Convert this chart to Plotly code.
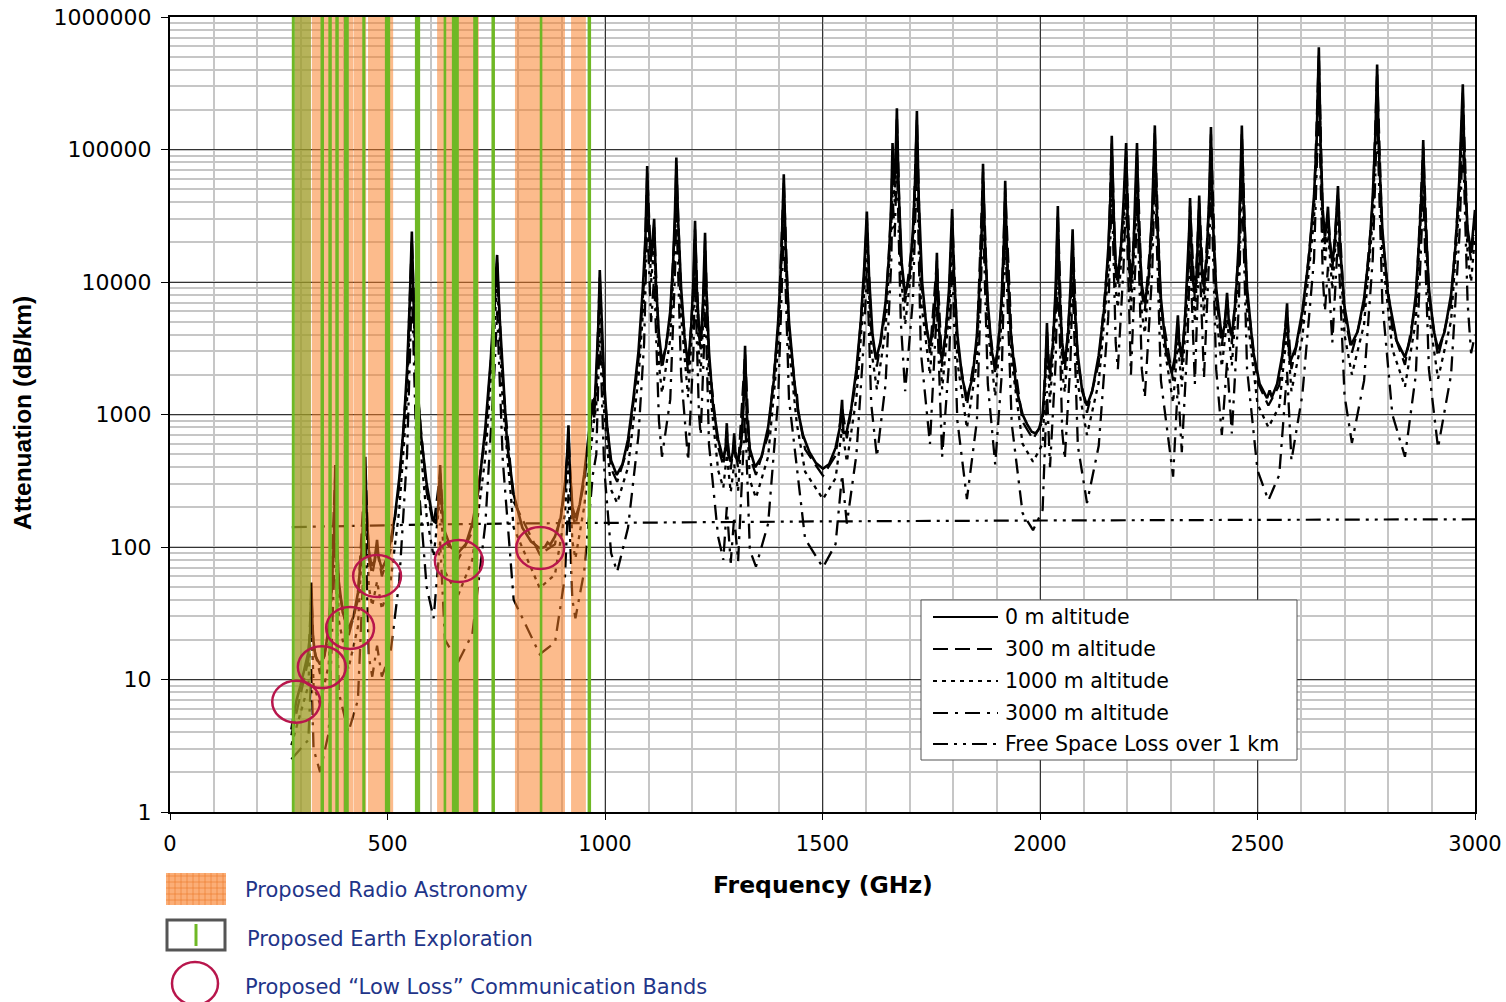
import plotly.graph_objects as go

# ---------------- data ----------------
# 0 m altitude specific attenuation (GHz, dB/km)
FREQ_0M = [
    279, 290, 300, 310, 318, 322, 325, 328, 334, 345,
    355, 365, 372, 377, 380, 383, 388, 397, 410, 422,
    432, 440, 446, 449, 452, 457, 463, 470, 474, 476,
    479, 487, 497, 507, 517, 527, 537, 545, 551, 556,
    560, 567, 577, 590, 603, 612, 617, 621, 625, 632,
    645, 662, 680, 695, 710, 725, 737, 746, 752, 757,
    765, 775, 790, 810, 830, 850, 862, 868, 874, 885,
    898, 908, 913, 916, 919, 925, 932, 942, 952, 962,
    968, 972, 975, 980, 985, 988, 992, 998, 1005, 1014,
    1027, 1040, 1053, 1065, 1077, 1087, 1093, 1097, 1101, 1106,
    1110, 1113, 1117, 1124, 1131, 1140, 1150, 1157, 1161, 1164,
    1168, 1175, 1183, 1191, 1198, 1203, 1207, 1211, 1216, 1220,
    1225, 1228, 1230, 1233, 1239, 1248, 1260, 1271, 1277, 1280,
    1283, 1289, 1294, 1297, 1300, 1306, 1313, 1318, 1322, 1326,
    1333, 1345, 1360, 1375, 1388, 1398, 1405, 1411, 1416, 1423,
    1432, 1438, 1441, 1444, 1455, 1470, 1485, 1501, 1515, 1530,
    1540, 1545, 1548, 1556, 1566, 1578, 1588, 1596, 1602, 1607,
    1615, 1623, 1633, 1645, 1653, 1658, 1661, 1664, 1668, 1671,
    1675, 1682, 1690, 1700, 1708, 1713, 1717, 1721, 1729, 1739,
    1747, 1755, 1760, 1763, 1766, 1771, 1775, 1783, 1791, 1795,
    1798, 1802, 1810, 1821, 1832, 1845, 1855, 1862, 1866, 1869,
    1873, 1880, 1889, 1897, 1905, 1912, 1917, 1920, 1924, 1932,
    1945, 1960, 1970, 1981, 1990, 1998, 2006, 2012, 2016, 2019,
    2023, 2030, 2036, 2041, 2045, 2051, 2057, 2064, 2070, 2075,
    2079, 2087, 2097, 2108, 2120, 2135, 2148, 2157, 2162, 2165,
    2169, 2174, 2179, 2186, 2192, 2198, 2202, 2206, 2209, 2214,
    2219, 2223, 2227, 2234, 2241, 2250, 2258, 2264, 2269, 2278,
    2290, 2303, 2310, 2315, 2317, 2320, 2326, 2333, 2339, 2343,
    2345, 2348, 2352, 2356, 2360, 2364, 2366, 2369, 2373, 2377,
    2383, 2389, 2393, 2397, 2405, 2418, 2425, 2430, 2434, 2441,
    2450, 2457, 2461, 2464, 2468, 2476, 2490, 2505, 2522, 2528,
    2533, 2545, 2557, 2564, 2568, 2571, 2575, 2588, 2603, 2618,
    2630, 2636, 2641, 2645, 2650, 2655, 2659, 2662, 2666, 2672,
    2678, 2682, 2685, 2690, 2700, 2715, 2730, 2745, 2757, 2765,
    2771, 2775, 2779, 2787, 2800, 2820, 2839, 2852, 2864, 2873,
    2878, 2881, 2885, 2894, 2905, 2915, 2930, 2945, 2956, 2964,
    2969, 2972, 2976, 2983, 2991, 2996, 3000,
]
ATT_0M = [
    4.2, 6.8, 9, 12.5, 16, 22, 54, 22, 15, 13,
    15, 25, 50, 120, 415, 120, 55, 32, 24, 30,
    45, 90, 200, 480, 180, 95, 72, 78, 95, 113,
    85, 68, 80, 110, 170, 330, 800, 2200, 7000, 24000,
    7000, 2000, 700, 300, 170, 150, 210, 415, 200, 130,
    100, 90, 105, 150, 280, 800, 2500, 7000, 16000, 6000,
    2000, 600, 250, 140, 110, 98, 100, 108, 104, 120,
    165, 300, 500, 830, 400, 200, 165, 210, 350, 700,
    1000, 1300, 950, 2000, 5000, 12300, 5000, 1800, 800, 450,
    350, 420, 650, 1300, 3000, 9000, 22000, 75000, 25000, 16000,
    22000, 30000, 10000, 4000, 2500, 3200, 6000, 15000, 35000, 87000,
    30000, 9000, 3800, 2350, 4500, 10000, 29000, 9000, 4500, 3600,
    6500, 12000, 23500, 9000, 3000, 1200, 650, 470, 540, 860,
    500, 440, 520, 720, 480, 450, 600, 1100, 3300, 1000,
    550, 400, 480, 800, 1800, 5000, 14000, 65000, 15000, 5000,
    2200, 1400, 1400, 1050, 700, 520, 430, 390, 420, 560,
    800, 1290, 720, 750, 1100, 2200, 5000, 13000, 34000, 11000,
    4000, 2600, 3500, 7000, 16000, 40000, 112000, 55000, 80000, 205000,
    50000, 14000, 8000, 11000, 25000, 60000, 195000, 45000, 10000, 4500,
    3300, 4500, 8000, 16600, 6000, 3000, 2600, 4000, 9000, 17000,
    35500, 12000, 4000, 1900, 1330, 1900, 4000, 11000, 25000, 78000,
    22000, 7000, 3000, 2300, 3500, 8000, 20000, 58000, 16000, 4500,
    1600, 1000, 850, 740, 720, 780, 1000, 2000, 4900, 2500,
    2050, 3500, 9000, 37500, 8000, 3500, 2450, 3800, 9000, 25000,
    7000, 2800, 1500, 1170, 1500, 2800, 6500, 18000, 45000, 127000,
    35000, 14000, 10700, 18000, 40000, 112000, 25000, 12000, 9800, 15000,
    40000, 112000, 25000, 9500, 6900, 11000, 35000, 152000, 30000, 7500,
    3000, 2050, 2700, 4200, 5600, 3500, 2700, 5000, 12000, 25000,
    43000, 18000, 10000, 8300, 11000, 25000, 45000, 20000, 11000, 9200,
    15000, 45000, 148000, 30000, 9000, 3800, 4800, 8300, 5000, 3900,
    7500, 20000, 55000, 152000, 40000, 9000, 3000, 1700, 1330, 1520,
    1350, 1700, 2800, 4500, 6900, 3500, 2500, 3200, 6000, 15000,
    45000, 120000, 590000, 110000, 35000, 22000, 28000, 37000, 20000, 14000,
    20000, 32000, 53000, 18000, 6500, 3340, 4200, 7500, 17000, 45000,
    130000, 437000, 100000, 25000, 8000, 3600, 2700, 3800, 8000, 25000,
    55000, 118000, 35000, 9000, 4300, 3100, 4200, 8000, 20000, 60000,
    140000, 310000, 70000, 25000, 16600, 24000, 35000,
]

# 300 m / 1000 m / 3000 m altitude curves (shared frequency points)
FREQ_ALT = [
    279, 300, 318, 325, 330, 345, 365, 380, 388, 410,
    432, 449, 457, 465, 476, 487, 507, 527, 545, 556,
    567, 590, 606, 621, 632, 662, 695, 725, 746, 752,
    765, 790, 850, 885, 908, 916, 925, 932, 952, 972,
    980, 988, 998, 1014, 1028, 1053, 1077, 1090, 1097, 1106,
    1113, 1124, 1131, 1150, 1161, 1164, 1175, 1191, 1203, 1207,
    1216, 1220, 1228, 1230, 1239, 1260, 1272, 1280, 1289, 1297,
    1306, 1322, 1333, 1347, 1375, 1398, 1411, 1423, 1441, 1460,
    1501, 1530, 1545, 1556, 1578, 1596, 1602, 1612, 1625, 1645,
    1658, 1661, 1666, 1671, 1680, 1690, 1708, 1717, 1726, 1747,
    1763, 1775, 1791, 1798, 1810, 1832, 1855, 1869, 1880, 1897,
    1912, 1920, 1935, 1960, 1984, 2006, 2016, 2023, 2036, 2041,
    2051, 2057, 2070, 2075, 2087, 2108, 2135, 2157, 2165, 2174,
    2179, 2192, 2198, 2209, 2219, 2223, 2234, 2241, 2258, 2264,
    2278, 2306, 2317, 2326, 2339, 2345, 2356, 2366, 2377, 2389,
    2393, 2405, 2418, 2430, 2441, 2457, 2464, 2476, 2500, 2525,
    2550, 2568, 2578, 2603, 2630, 2641, 2650, 2655, 2662, 2672,
    2685, 2700, 2717, 2745, 2765, 2775, 2787, 2810, 2839, 2864,
    2881, 2894, 2915, 2945, 2964, 2972, 2983, 2991, 3000,
]
ATT_300M = [
    3.8, 7.8, 14, 45, 18, 11, 22, 360, 48, 21,
    40, 420, 82, 62, 98, 60, 95, 290, 1900, 21000,
    1750, 260, 145, 360, 112, 80, 130, 700, 6000, 14000,
    1750, 220, 88, 105, 260, 720, 175, 145, 305, 1100,
    1750, 10800, 1550, 390, 310, 570, 2600, 10500, 66000, 14000,
    26000, 3500, 2200, 5200, 30000, 76000, 7800, 2050, 8700, 25000,
    3900, 3100, 10500, 20500, 2600, 570, 410, 750, 385, 630,
    395, 2900, 480, 350, 700, 4400, 57000, 4400, 1220, 545,
    345, 490, 1130, 660, 1900, 11400, 30000, 4400, 2300, 6100,
    35000, 98000, 52000, 180000, 15800, 7000, 22000, 170000, 10500, 2900,
    14500, 2300, 7900, 31000, 3500, 1170, 3500, 68000, 6100, 2000,
    7000, 51000, 3500, 880, 650, 880, 4300, 1800, 7900, 33000,
    3050, 2150, 7900, 22000, 2450, 1030, 2450, 15800, 111000, 12300,
    9400, 35000, 98000, 8600, 35000, 98000, 8300, 6050, 30500, 133000,
    6600, 1800, 4900, 2370, 10500, 37500, 7300, 39500, 8100, 39500,
    130000, 7900, 3300, 7300, 3400, 17500, 133000, 7900, 1750, 1170,
    1660, 6050, 2200, 5250, 39500, 520000, 30500, 19300, 32500, 12300,
    46500, 5700, 2930, 6600, 39500, 385000, 22000, 4400, 2370, 7000,
    104000, 7900, 2720, 7000, 52500, 272000, 22000, 14600, 30700,
]
ATT_1000M = [
    3.2, 5.5, 9, 30, 9, 6.5, 13, 250, 28, 12,
    25, 300, 50, 36, 55, 34, 55, 190, 1300, 16000,
    1200, 170, 85, 240, 65, 43, 80, 480, 4500, 10500,
    1200, 140, 49, 62, 180, 500, 110, 82, 200, 750,
    1200, 8000, 1050, 270, 215, 400, 1900, 8000, 50000, 10000,
    19000, 2400, 1450, 3700, 22000, 58000, 5500, 1350, 6200, 19000,
    2700, 2100, 7500, 15500, 1800, 380, 280, 500, 260, 420,
    265, 2000, 320, 235, 480, 3200, 44000, 3200, 850, 370,
    230, 330, 780, 440, 1350, 8500, 23000, 3100, 1550, 4400,
    26000, 75000, 40000, 140000, 11500, 4800, 16000, 130000, 7500, 2000,
    11000, 1550, 5800, 24000, 2500, 790, 2500, 52000, 4400, 1380,
    5100, 39000, 2500, 600, 440, 600, 3100, 1230, 5800, 25000,
    2100, 1470, 5800, 16500, 1700, 700, 1750, 11500, 85000, 8800,
    6400, 26000, 75000, 5900, 26000, 75000, 5900, 4100, 23000, 102000,
    4700, 1230, 3500, 1620, 7800, 28500, 5000, 30000, 5500, 30000,
    99000, 5700, 2300, 5200, 2350, 13000, 102000, 5700, 1200, 800,
    1150, 4300, 1500, 3800, 30000, 400000, 23000, 14000, 24500, 8800,
    35500, 4000, 2000, 4800, 30000, 295000, 16000, 3100, 1620, 5100,
    79000, 5700, 1860, 5100, 40000, 208000, 16000, 10000, 22500,
]
ATT_3000M = [
    2.5, 3.0, 3.5, 12, 3, 2.0, 4, 120, 8, 4.0,
    7, 150, 15, 10.5, 18, 10.5, 16, 55, 500, 9000,
    450, 50, 29, 110, 20, 13.5, 22, 150, 2200, 6000,
    450, 40, 15.5, 19, 60, 250, 40, 29, 65, 350,
    500, 4500, 400, 90, 65, 140, 700, 3500, 30000, 5000,
    11000, 900, 480, 1300, 12000, 35000, 2000, 450, 2800, 11000,
    1000, 700, 3500, 9000, 600, 120, 80, 200, 76, 170,
    78, 1000, 95, 71, 150, 1300, 26000, 1300, 380, 115,
    70, 105, 350, 150, 500, 4000, 13500, 1200, 480, 1700,
    14000, 45000, 22000, 85000, 5000, 1500, 7500, 80000, 3000, 600,
    6500, 480, 2500, 14000, 900, 230, 900, 31000, 1700, 420,
    2000, 23000, 850, 180, 134, 190, 1500, 400, 2500, 15000,
    750, 460, 2500, 10000, 580, 215, 580, 5500, 52000, 3500,
    2200, 13000, 45000, 2000, 13000, 45000, 2200, 1350, 12000, 62000,
    1800, 340, 1700, 520, 3500, 17000, 1700, 18000, 1900, 16000,
    60000, 2200, 700, 2500, 720, 6500, 62000, 2200, 380, 225,
    350, 2100, 450, 1400, 15000, 250000, 11000, 6000, 13000, 3500,
    21000, 1400, 610, 1800, 15000, 180000, 7000, 1000, 480, 2000,
    47000, 2200, 560, 2000, 22000, 125000, 7000, 2900, 4000,
]

# Free space loss over 1 km (dB)
FREQ_FSL = [280, 400, 600, 800, 1000, 1500, 2000, 2500, 3000]
ATT_FSL = [141.4, 144.5, 148.0, 150.5, 152.4, 156.0, 158.5, 160.4, 162.0]

# Proposed allocations (GHz)
RAS_BANDS = [(287, 324), (326, 421), (422, 451), (455, 513), (614, 710), (793, 908), (922, 956)]
EESS_LINES = [(280, 287), (346, 354), (364, 372), (380, 388), (400, 411), (442, 449), (494, 506),
              (563, 575), (629, 635), (648, 664), (697, 708), (739, 747), (850, 856), (960, 968)]
EESS_HATCH = [(287, 324)]
# "Low loss" communication windows (centre GHz, attenuation dB/km)
LOW_LOSS = [(290, 6.8), (349, 12.4), (414, 24.5), (476, 60.4), (664, 78.4), (851, 98.3)]

X_TICKS = [0, 500, 1000, 1500, 2000, 2500, 3000]
Y_TICKS = [1, 10, 100, 1000, 10000, 100000, 1000000]
Y_TICK_TEXT = ["1", "10", "100", "1000", "10000", "100000", "1000000"]

SERIES_NAMES = ["0 m altitude", "300 m altitude", "1000 m altitude", "3000 m altitude",
                "Free Space Loss over 1 km"]
SERIES_DASH = ["solid", "15px,7px", "4px,5px", "15px,7px,3px,7px", "15px,6px,3px,6px,3px,6px"]
BOTTOM_LABELS = ["Proposed Radio Astronomy", "Proposed Earth Exploration",
                 "Proposed \u201cLow Loss\u201d Communication Bands"]

# ---------------- layout geometry (page pixels) ----------------
W, H = 1506, 1002
PLOT_L, PLOT_R, PLOT_T, PLOT_B = 170, 1475, 17, 812   # target plot box
ML, MT = PLOT_L, PLOT_T
MR, MB = W - PLOT_R, H - PLOT_B
PW = PLOT_R - PLOT_L
PH = PLOT_B - PLOT_T


def pxx(xp):
    return (xp - PLOT_L) / PW


def pxy(yp):
    return (PLOT_B - yp) / PH


ORANGE = "rgba(250,125,35,0.52)"
GREEN = "#6fb825"
RED = "#b8164c"
NAVY = "#1f3589"

fig = go.Figure()

series = [
    (FREQ_0M, ATT_0M),
    (FREQ_ALT, ATT_300M),
    (FREQ_ALT, ATT_1000M),
    (FREQ_ALT, ATT_3000M),
    (FREQ_FSL, ATT_FSL),
]
widths = [2.6, 2.3, 2.3, 2.3, 2.2]
for (fx, fy), name, dash, lw in zip(series, SERIES_NAMES, SERIES_DASH, widths):
    fig.add_trace(go.Scatter(x=fx, y=fy, mode="lines", name=name, showlegend=False,
                             line=dict(color="black", width=lw, dash=dash)))

shapes = []
for f0, f1 in RAS_BANDS:
    shapes.append(dict(type="rect", xref="x", yref="paper", x0=f0, x1=f1, y0=0, y1=1,
                       fillcolor=ORANGE, line=dict(width=0), layer="above"))
for f0, f1 in EESS_HATCH:
    shapes.append(dict(type="rect", xref="x", yref="paper", x0=f0, x1=f1, y0=0, y1=1,
                       fillcolor="rgba(112,172,40,0.5)", line=dict(width=0), layer="above"))
for f0, f1 in EESS_LINES:
    shapes.append(dict(type="rect", xref="x", yref="paper", x0=f0, x1=f1, y0=0, y1=1,
                       fillcolor=GREEN, line=dict(width=0), layer="above"))
for fc, ac in LOW_LOSS:
    shapes.append(dict(type="circle", xref="x", yref="y", x0=fc - 55, x1=fc + 55,
                       y0=ac / 1.44, y1=ac * 1.44, line=dict(color=RED, width=2.5),
                       fillcolor="rgba(0,0,0,0)", layer="above"))

# in-plot legend
shapes.append(dict(type="rect", xref="paper", yref="paper", x0=pxx(921), x1=pxx(1297),
                   y0=pxy(760), y1=pxy(600), fillcolor="white",
                   line=dict(color="#555555", width=1), layer="above"))
rows = [617, 649, 681, 713, 744]
annotations = []
for r, name, dash in zip(rows, SERIES_NAMES, SERIES_DASH):
    shapes.append(dict(type="line", xref="paper", yref="paper", x0=pxx(933), x1=pxx(998),
                       y0=pxy(r), y1=pxy(r), line=dict(color="black", width=2, dash=dash),
                       layer="above"))
    annotations.append(dict(xref="paper", yref="paper", x=pxx(1003), y=pxy(r), text=name,
                            showarrow=False, xanchor="left", yanchor="middle",
                            font=dict(family="DejaVu Sans", size=20.5, color="black")))

# bottom legend swatches
shapes.append(dict(type="rect", xref="paper", yref="paper", x0=pxx(166), x1=pxx(226),
                   y0=pxy(905), y1=pxy(873), fillcolor="rgba(250,160,95,0.85)",
                   line=dict(width=0)))
for xg in range(169, 226, 6):
    shapes.append(dict(type="line", xref="paper", yref="paper", x0=pxx(xg), x1=pxx(xg),
                       y0=pxy(905), y1=pxy(873), line=dict(color="rgba(235,120,40,0.6)", width=1)))
for yg in range(876, 905, 6):
    shapes.append(dict(type="line", xref="paper", yref="paper", x0=pxx(166), x1=pxx(226),
                       y0=pxy(yg), y1=pxy(yg), line=dict(color="rgba(235,120,40,0.6)", width=1)))
shapes.append(dict(type="rect", xref="paper", yref="paper", x0=pxx(167), x1=pxx(225),
                   y0=pxy(950), y1=pxy(920), fillcolor="white",
                   line=dict(color="#555555", width=3)))
shapes.append(dict(type="line", xref="paper", yref="paper", x0=pxx(196), x1=pxx(196),
                   y0=pxy(946), y1=pxy(924), line=dict(color=GREEN, width=3)))
shapes.append(dict(type="circle", xref="paper", yref="paper", x0=pxx(172), x1=pxx(218),
                   y0=pxy(1005), y1=pxy(962), line=dict(color=RED, width=2.5)))

for label, xp, yp in zip(BOTTOM_LABELS, [243, 245, 243], [890, 939, 987]):
    annotations.append(dict(xref="paper", yref="paper", x=pxx(xp), y=pxy(yp), text=label,
                            showarrow=False, xanchor="left", yanchor="middle",
                            font=dict(family="DejaVu Sans", size=21, color=NAVY)))

# axis titles
annotations.append(dict(xref="paper", yref="paper", x=pxx(823), y=pxy(885),
                        text="<b>Frequency (GHz)</b>", showarrow=False,
                        xanchor="center", yanchor="middle",
                        font=dict(family="DejaVu Sans", size=23.5, color="black")))
annotations.append(dict(xref="paper", yref="paper", x=pxx(22), y=pxy(413),
                        text="<b>Attenuation (dB/km)</b>", showarrow=False, textangle=-90,
                        xanchor="center", yanchor="middle",
                        font=dict(family="Liberation Sans", size=24.5, color="black")))

fig.update_layout(
    width=W, height=H,
    margin=dict(l=ML, r=MR, t=MT, b=MB, pad=0, autoexpand=False),
    paper_bgcolor="white", plot_bgcolor="white",
    showlegend=False,
    shapes=shapes,
    annotations=annotations,
    xaxis=dict(
        range=[0, 3000], tickmode="array", tickvals=X_TICKS, automargin=False,
        ticks="outside", ticklen=6, tickcolor="black", tickwidth=1,
        showline=True, linecolor="black", linewidth=2, mirror=True,
        showgrid=True, gridcolor="#333333", gridwidth=1, zeroline=False,
        tickfont=dict(family="DejaVu Sans", size=21, color="black"),
        ticklabelstandoff=6, ticklabeloverflow="allow",
        minor=dict(tickmode="linear", tick0=0, dtick=100, showgrid=True,
                   gridcolor="#c6c6c6", gridwidth=1.5, ticks=""),
    ),
    yaxis=dict(
        type="log", range=[0, 6], tickmode="array", tickvals=Y_TICKS, ticktext=Y_TICK_TEXT,
        automargin=False,
        ticks="outside", ticklen=7, tickcolor="black", tickwidth=1,
        showline=True, linecolor="black", linewidth=2, mirror=True,
        showgrid=True, gridcolor="#333333", gridwidth=1, zeroline=False,
        tickfont=dict(family="DejaVu Sans", size=22, color="black"),
        ticklabelstandoff=5, ticklabeloverflow="allow",
        minor=dict(tickmode="linear", dtick="D1", showgrid=True,
                   gridcolor="#c6c6c6", gridwidth=1.5, ticks=""),
    ),
)

# remove the default page margin so the figure fills the 1506x1002 window exactly
fig.write_html("out.html",
               config={"displayModeBar": False},
               post_script="document.body.style.margin='0px';document.body.style.overflow='hidden';")
